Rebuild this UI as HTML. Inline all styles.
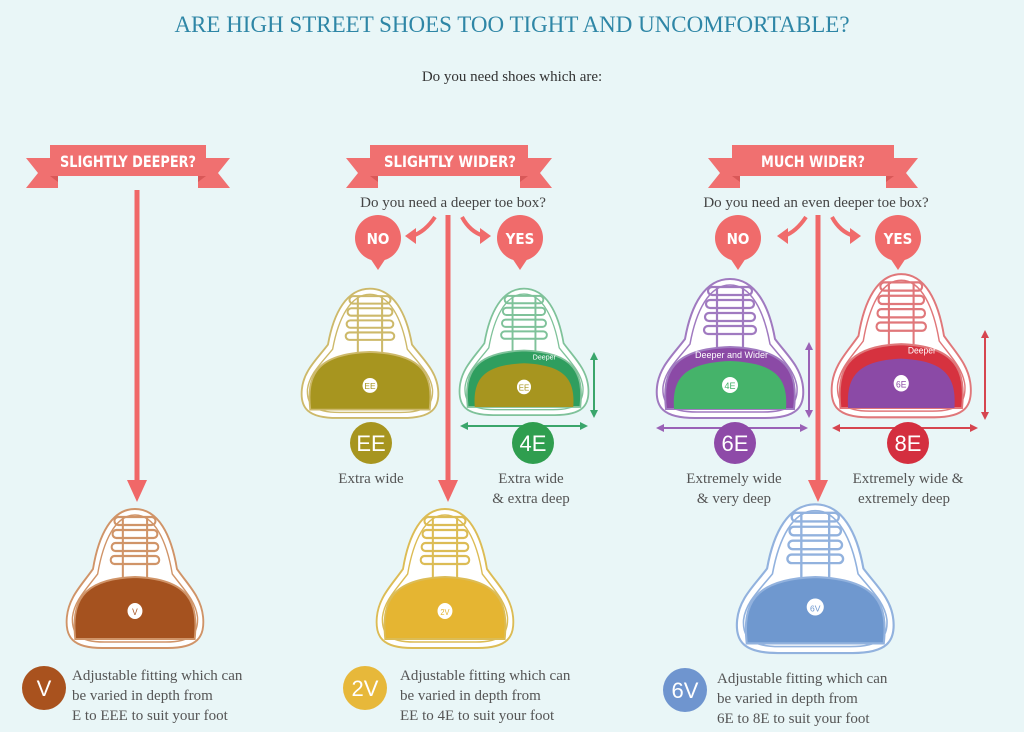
<!DOCTYPE html>
<html><head><meta charset="utf-8"><style>
html,body{margin:0;padding:0;background:#e9f6f7;}
svg{display:block}
</style></head><body>
<svg width="1024" height="732" viewBox="0 0 1024 732" xmlns="http://www.w3.org/2000/svg" font-family="Liberation Serif, serif">
<defs>
<g id="laces" fill="none" stroke-width="2.2">
<line x1="62" y1="12" x2="62" y2="72"/><line x1="88" y1="12" x2="88" y2="72"/>
<rect x="53" y="12" width="44" height="8" rx="4"/>
<rect x="51" y="25" width="48" height="8" rx="4"/>
<rect x="50" y="38" width="50" height="8" rx="4"/>
<rect x="49" y="51" width="52" height="8" rx="4"/>
</g>
<path id="outer" d="M40,143 C8,143 0,132 2,112 C4,92 18,80 30,64 C36,30 50,4 75,4 C100,4 114,30 120,64 C132,80 146,92 148,112 C150,132 142,143 110,143 Z"/>
<path id="inner" d="M42,137 C14,137 7,128 8,112 C10,96 22,85 35,69 C41,36 54,10 75,10 C96,10 109,36 115,69 C128,85 140,96 142,112 C143,128 136,137 108,137 Z"/>
<path id="toe" d="M11,134 C7,98 16,74 75,72 C134,74 143,98 139,134 Z"/>
<path id="toeTop" d="M19,134 C17,104 28,88 75,86 C122,88 133,104 131,134 Z"/>
</defs>
<rect width="1024" height="732" fill="#e9f6f7"/>
<text x="512" y="32" text-anchor="middle" font-size="23" fill="#2e86a6">ARE HIGH STREET SHOES TOO TIGHT AND UNCOMFORTABLE?</text>
<text x="512" y="81" text-anchor="middle" font-size="15" fill="#333">Do you need shoes which are:</text>

<g fill="#f07070">
<polygon points="26,158 58,158 58,188 26,188 38,173"/><polygon points="230,158 198,158 198,188 230,188 218,173"/>
<rect x="50" y="145" width="156" height="31"/>
<polygon points="346,158 378,158 378,188 346,188 358,173"/><polygon points="552,158 520,158 520,188 552,188 540,173"/>
<rect x="370" y="145" width="158" height="31"/>
<polygon points="708,158 740,158 740,188 708,188 720,173"/><polygon points="918,158 886,158 886,188 918,188 906,173"/>
<rect x="732" y="145" width="162" height="31"/>
</g>
<g fill="#d95858"><polygon points="50,176 58,176 58,182"/><polygon points="206,176 198,176 198,182"/><polygon points="370,176 378,176 378,182"/><polygon points="528,176 520,176 520,182"/><polygon points="732,176 740,176 740,182"/><polygon points="894,176 886,176 886,182"/></g>
<g font-family="DejaVu Sans Condensed, DejaVu Sans, sans-serif" font-weight="bold" font-size="16" fill="#fff" text-anchor="middle">
<text x="128" y="167" textLength="136" lengthAdjust="spacingAndGlyphs">SLIGHTLY DEEPER?</text>
<text x="450" y="167" textLength="132" lengthAdjust="spacingAndGlyphs">SLIGHTLY WIDER?</text>
<text x="813" y="167" textLength="104" lengthAdjust="spacingAndGlyphs">MUCH WIDER?</text>
</g>
<text x="453" y="207" text-anchor="middle" font-size="15" fill="#444">Do you need a deeper toe box?</text>
<text x="816" y="207" text-anchor="middle" font-size="15" fill="#444">Do you need an even deeper toe box?</text>

<g stroke="#f06868" stroke-width="5" fill="#f06868">
<line x1="137" y1="190" x2="137" y2="482"/><polygon points="127,480 147,480 137,502" stroke="none"/>
<line x1="448" y1="215" x2="448" y2="482"/><polygon points="438,480 458,480 448,502" stroke="none"/>
<line x1="818" y1="215" x2="818" y2="482"/><polygon points="808,480 828,480 818,502" stroke="none"/>
</g>
<g fill="#f06b6b">
<circle cx="378" cy="238" r="23"/><polygon points="370,258 386,258 378,270"/>
<circle cx="520" cy="238" r="23"/><polygon points="512,258 528,258 520,270"/>
<circle cx="738" cy="238" r="23"/><polygon points="730,258 746,258 738,270"/>
<circle cx="898" cy="238" r="23"/><polygon points="890,258 906,258 898,270"/>
</g>
<g font-family="DejaVu Sans Condensed, DejaVu Sans, sans-serif" font-weight="bold" font-size="15" fill="#fff" text-anchor="middle">
<text x="378" y="244">NO</text><text x="520" y="244">YES</text><text x="738" y="244">NO</text><text x="898" y="244">YES</text>
</g>
<g stroke="#f06b6b" stroke-width="4" fill="none">
<path d="M435,217 Q425,232 412,236"/><path d="M462,217 Q470,232 484,236"/>
<path d="M806,217 Q796,232 784,236"/><path d="M832,217 Q840,232 854,236"/>
</g>
<g fill="#f06b6b"><polygon points="405,236 416,228 416,244"/><polygon points="491,236 480,228 480,244"/><polygon points="777,236 788,228 788,244"/><polygon points="861,236 850,228 850,244"/></g>

<g transform="translate(300,285) scale(0.933,0.93)">
<use href="#outer" fill="#fff" stroke="#cdb96a" stroke-width="2"/><use href="#inner" fill="none" stroke="#cdb96a" stroke-width="1.5"/>
<use href="#toe" fill="#a7951f" stroke="#cdb96a" stroke-width="2"/><use href="#laces" stroke="#cdb96a"/>
<circle cx="75" cy="108" r="8" fill="#fff"/><text x="75" y="112" font-size="9" text-anchor="middle" fill="#a7951f" font-family="Liberation Sans">EE</text></g>
<g transform="translate(458,285) scale(0.88,0.91)">
<use href="#outer" fill="#fff" stroke="#7fc29a" stroke-width="2"/><use href="#inner" fill="none" stroke="#7fc29a" stroke-width="1.5"/>
<use href="#toe" fill="#2f9e5f" stroke="#7fc29a" stroke-width="2"/><use href="#toeTop" fill="#a7951f"/><use href="#laces" stroke="#7fc29a"/>
<text x="85" y="82" font-size="8" fill="#fff" font-family="Liberation Sans">Deeper</text>
<circle cx="75" cy="112" r="8" fill="#fff"/><text x="75" y="116" font-size="9" text-anchor="middle" fill="#a7951f" font-family="Liberation Sans">EE</text></g>
<g transform="translate(655,275) scale(1.0,1.0)">
<use href="#outer" fill="#fff" stroke="#a07ac0" stroke-width="2"/><use href="#inner" fill="none" stroke="#a07ac0" stroke-width="1.5"/>
<use href="#toe" fill="#8b4aa6" stroke="#a07ac0" stroke-width="2"/><use href="#toeTop" fill="#45b36a"/><use href="#laces" stroke="#a07ac0"/>
<text x="40" y="83" font-size="9" fill="#fff" font-family="Liberation Sans">Deeper and Wider</text>
<circle cx="75" cy="110" r="8" fill="#fff"/><text x="75" y="114" font-size="9" text-anchor="middle" fill="#45b36a" font-family="Liberation Sans">4E</text></g>
<g transform="translate(830,270) scale(0.95,1.03)">
<use href="#outer" fill="#fff" stroke="#e0777a" stroke-width="2"/><use href="#inner" fill="none" stroke="#e0777a" stroke-width="1.5"/>
<use href="#toe" fill="#d6323f" stroke="#e0777a" stroke-width="2"/><use href="#toeTop" fill="#8b4aa6"/><use href="#laces" stroke="#e0777a"/>
<text x="82" y="81" font-size="9" fill="#fff" font-family="Liberation Sans">Deeper</text>
<circle cx="75" cy="110" r="8" fill="#fff"/><text x="75" y="114" font-size="9" text-anchor="middle" fill="#8b4aa6" font-family="Liberation Sans">6E</text></g>
<g transform="translate(65,505) scale(0.933,1.0)">
<use href="#outer" fill="#fff" stroke="#d09468" stroke-width="2"/><use href="#inner" fill="none" stroke="#d09468" stroke-width="1.5"/>
<use href="#toe" fill="#a5521f" stroke="#d09468" stroke-width="2"/><use href="#laces" stroke="#d09468"/>
<circle cx="75" cy="106" r="8" fill="#fff"/><text x="75" y="110" font-size="9" text-anchor="middle" fill="#a5521f" font-family="Liberation Sans">V</text></g>
<g transform="translate(375,505) scale(0.933,1.0)">
<use href="#outer" fill="#fff" stroke="#dcbc55" stroke-width="2"/><use href="#inner" fill="none" stroke="#dcbc55" stroke-width="1.5"/>
<use href="#toe" fill="#e5b532" stroke="#dcbc55" stroke-width="2"/><use href="#laces" stroke="#dcbc55"/>
<circle cx="75" cy="106" r="8" fill="#fff"/><text x="75" y="110" font-size="8" text-anchor="middle" fill="#e5b532" font-family="Liberation Sans">2V</text></g>
<g transform="translate(735,500) scale(1.07,1.07)">
<use href="#outer" fill="#fff" stroke="#92b2de" stroke-width="2"/><use href="#inner" fill="none" stroke="#92b2de" stroke-width="1.5"/>
<use href="#toe" fill="#6f98cf" stroke="#92b2de" stroke-width="2"/><use href="#laces" stroke="#92b2de"/>
<circle cx="75" cy="100" r="8" fill="#fff"/><text x="75" y="104" font-size="8" text-anchor="middle" fill="#6f98cf" font-family="Liberation Sans">6V</text></g>

<g stroke-width="2">
<line x1="466" y1="426" x2="582" y2="426" stroke="#3aa66b"/><line x1="594" y1="358" x2="594" y2="412" stroke="#3aa66b"/>
<line x1="662" y1="428" x2="802" y2="428" stroke="#9a62b6"/><line x1="809" y1="348" x2="809" y2="412" stroke="#9a62b6"/>
<line x1="838" y1="428" x2="972" y2="428" stroke="#d6454f"/><line x1="985" y1="336" x2="985" y2="414" stroke="#d6454f"/>
</g>
<g>
<polygon points="460,426 468,422 468,430" fill="#3aa66b"/><polygon points="588,426 580,422 580,430" fill="#3aa66b"/><polygon points="594,352 590,360 598,360" fill="#3aa66b"/><polygon points="594,418 590,410 598,410" fill="#3aa66b"/>
<polygon points="656,428 664,424 664,432" fill="#9a62b6"/><polygon points="808,428 800,424 800,432" fill="#9a62b6"/><polygon points="809,342 805,350 813,350" fill="#9a62b6"/><polygon points="809,418 805,410 813,410" fill="#9a62b6"/>
<polygon points="832,428 840,424 840,432" fill="#d6454f"/><polygon points="978,428 970,424 970,432" fill="#d6454f"/><polygon points="985,330 981,338 989,338" fill="#d6454f"/><polygon points="985,420 981,412 989,412" fill="#d6454f"/>
</g>

<circle cx="371" cy="443" r="21" fill="#a7951f"/><circle cx="533" cy="443" r="21" fill="#2f9e4f"/>
<circle cx="735" cy="443" r="21" fill="#8e4aa8"/><circle cx="908" cy="443" r="21" fill="#d42f3f"/>
<g font-family="Liberation Sans, sans-serif" font-size="22" fill="#fff" text-anchor="middle">
<text x="371" y="451">EE</text><text x="533" y="451">4E</text><text x="735" y="451">6E</text><text x="908" y="451">8E</text>
</g>
<g font-size="15" fill="#555" text-anchor="middle">
<text x="371" y="483">Extra wide</text>
<text x="531" y="483">Extra wide</text><text x="531" y="503">&amp; extra deep</text>
<text x="734" y="483">Extremely wide</text><text x="734" y="503">&amp; very deep</text>
<text x="908" y="483">Extremely wide &amp;</text><text x="904" y="503">extremely deep</text>
</g>

<circle cx="44" cy="688" r="22" fill="#a9521e"/><circle cx="365" cy="688" r="22" fill="#e7b83a"/><circle cx="685" cy="690" r="22" fill="#6f95cf"/>
<g font-family="Liberation Sans, sans-serif" font-size="22" fill="#fff" text-anchor="middle">
<text x="44" y="696">V</text><text x="365" y="696">2V</text><text x="685" y="698">6V</text>
</g>
<g font-size="15" fill="#555">
<text x="72" y="680">Adjustable fitting which can</text><text x="72" y="700">be varied in depth from</text><text x="72" y="720">E to EEE to suit your foot</text>
<text x="400" y="680">Adjustable fitting which can</text><text x="400" y="700">be varied in depth from</text><text x="400" y="720">EE to 4E to suit your foot</text>
<text x="717" y="683">Adjustable fitting which can</text><text x="717" y="703">be varied in depth from</text><text x="717" y="723">6E to 8E to suit your foot</text>
</g>
</svg>
</body></html>
